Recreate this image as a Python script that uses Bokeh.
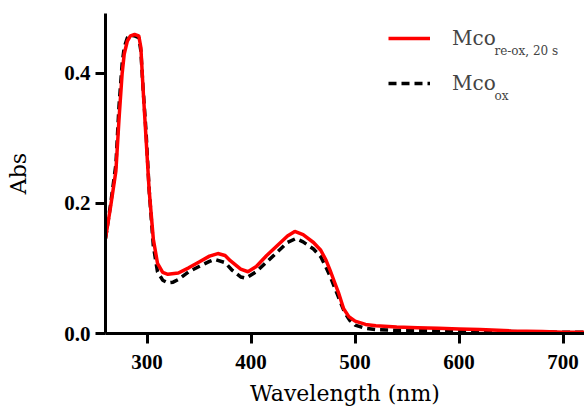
from bokeh.plotting import figure
from bokeh.models import Legend, LegendItem, Label, FixedTicker, Range1d
from bokeh.embed import file_html
from bokeh.resources import INLINE

# Wavelength (nm) and absorbance values
wl_reox = [260, 265, 270, 273, 276, 278, 281, 284, 288, 292, 294, 296, 299, 302, 306, 310, 315, 320,
           330, 340, 350, 360, 368, 375, 380, 390, 397, 405, 415, 425, 435, 442, 450,
           460, 467, 472, 476, 480, 484, 489, 494, 500, 510, 520, 540, 560, 580, 600,
           620, 650, 680, 700, 722]
abs_reox = [0.146, 0.196, 0.25, 0.33, 0.40, 0.43, 0.45, 0.458, 0.46, 0.458, 0.44, 0.38, 0.30, 0.22, 0.145, 0.108, 0.094, 0.091,
            0.093, 0.101, 0.11, 0.119, 0.123, 0.12, 0.112, 0.099, 0.095, 0.103, 0.12, 0.135, 0.15, 0.157, 0.152,
            0.14, 0.128, 0.113, 0.097, 0.08, 0.063, 0.038, 0.026, 0.019, 0.014, 0.012, 0.010, 0.009, 0.008, 0.007,
            0.006, 0.004, 0.003, 0.002, 0.002]

wl_ox = [260, 265, 270, 273, 276, 278, 281, 284, 288, 292, 294, 296, 299, 302, 306, 310, 315, 320,
         325, 330, 340, 350, 360, 365, 375, 382, 390, 395, 405, 415, 425, 435, 443,
         450, 460, 467, 472, 476, 480, 485, 490, 495, 500, 510, 520, 540, 560, 600,
         650, 700, 722]
abs_ox = [0.146, 0.2, 0.26, 0.35, 0.415, 0.44, 0.455, 0.458, 0.458, 0.455, 0.435, 0.38, 0.31, 0.22, 0.135, 0.095, 0.082, 0.078,
          0.079, 0.083, 0.095, 0.103, 0.111, 0.114, 0.109, 0.097, 0.087, 0.085, 0.095, 0.11, 0.125, 0.14, 0.146,
          0.141, 0.13, 0.118, 0.102, 0.088, 0.072, 0.052, 0.032, 0.02, 0.013, 0.008, 0.006, 0.005, 0.005, 0.004,
          0.003, 0.002, 0.002]

x_ticks = [300, 400, 500, 600, 700]
y_ticks = [0.0, 0.2, 0.4]

SERIF = "DejaVu Serif"
TICKFONT = "Liberation Serif"

p = figure(width=584, height=413, output_backend="svg", toolbar_location=None,
           x_range=Range1d(260, 720.6), y_range=Range1d(0, 0.4923),
           min_border_left=105, min_border_right=0, min_border_top=13, min_border_bottom=80)
p.outline_line_color = None
p.xgrid.visible = False
p.ygrid.visible = False

l_ox = p.line(wl_ox, abs_ox, line_color="black", line_width=3.5, line_dash="8 5")
l_re = p.line(wl_reox, abs_reox, line_color="#ff0000", line_width=3.5)

for ax in (p.xaxis[0], p.yaxis[0]):
    ax.axis_line_width = 3
    ax.axis_line_color = "black"
    ax.major_tick_line_width = 3
    ax.major_tick_line_color = "black"
    ax.major_tick_out = 10
    ax.major_tick_in = 0
    ax.minor_tick_line_color = None
    ax.major_label_text_font = TICKFONT
    ax.major_label_text_font_style = "bold"
    ax.major_label_text_font_size = "21px"
    ax.major_label_text_color = "black"
    ax.axis_label_text_font = SERIF
    ax.axis_label_text_font_style = "normal"
    ax.axis_label_text_font_size = "22px"
    ax.axis_label_text_color = "black"

p.xaxis.ticker = FixedTicker(ticks=x_ticks)
p.yaxis.ticker = FixedTicker(ticks=y_ticks)
p.yaxis.major_label_overrides = {0.0: "0.0", 0.2: "0.2", 0.4: "0.4"}
p.xaxis.axis_label = "Wavelength (nm)"
p.yaxis.axis_label = "Abs"
p.xaxis.major_label_standoff = 11
p.yaxis.major_label_standoff = 5
p.xaxis.axis_label_standoff = 9
p.yaxis.axis_label_standoff = 30

legend = Legend(items=[LegendItem(label="Mco", renderers=[l_re]),
                       LegendItem(label="Mco", renderers=[l_ox])],
                location=(283, 238), orientation="vertical",
                glyph_width=42, glyph_height=24, label_height=24, spacing=21,
                padding=0, margin=0, label_standoff=22,
                label_text_font=SERIF, label_text_font_size="20px",
                background_fill_alpha=0, border_line_color=None)
p.add_layout(legend, "center")

sub1 = Label(x=634, y=0.435, text="re-ox, 20 s", text_font=SERIF, text_font_size="12px",
             text_baseline="alphabetic")
sub2 = Label(x=634, y=0.366, text="ox", text_font=SERIF, text_font_size="12px",
             text_baseline="alphabetic")
p.add_layout(sub1)
p.add_layout(sub2)

open("out.html", "w").write(file_html(p, INLINE))
